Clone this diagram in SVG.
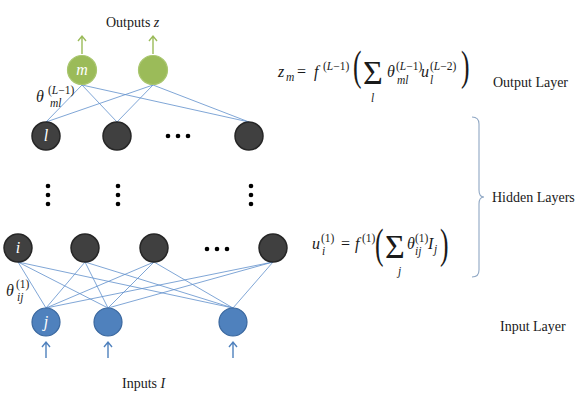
<svg xmlns="http://www.w3.org/2000/svg" width="581" height="411" viewBox="0 0 581 411">
<style>
text{font-family:"Liberation Serif","Times New Roman",serif;fill:#1a1a1a}
.t{font-size:14px}
.m{font-size:16px;font-style:italic}
.s{font-size:11.5px}
.i{font-style:italic}
.lbl{font-size:16px;font-style:italic;fill:#ffffff;text-anchor:middle}
.dk{fill:#404040;stroke:#262626;stroke-width:1.5}
.gr{fill:#9BBB59;stroke:#A9C66F;stroke-width:1.2}
.bl{fill:#4F81BD;stroke:#3A679E;stroke-width:1.2}
.cn{stroke:#5F8FCB;stroke-width:0.8;fill:none}
.dot{fill:#000}
.ga{stroke:#9BBB59;stroke-width:1.4;fill:none}
.ba{stroke:#4F81BD;stroke-width:1.4;fill:none}
.par{font-size:32px}
.sig{font-size:34px}
</style>

<g id="connectors">
  <line class="cn" x1="82" y1="85" x2="46" y2="122"/>
  <line class="cn" x1="82" y1="85" x2="117" y2="122"/>
  <line class="cn" x1="82" y1="85" x2="249" y2="122"/>
  <line class="cn" x1="153" y1="85" x2="46" y2="122"/>
  <line class="cn" x1="153" y1="85" x2="117" y2="122"/>
  <line class="cn" x1="153" y1="85" x2="249" y2="122"/>

  <line class="cn" x1="18" y1="262" x2="46" y2="308"/>
  <line class="cn" x1="18" y1="262" x2="108" y2="308"/>
  <line class="cn" x1="18" y1="262" x2="233" y2="308"/>
  <line class="cn" x1="85" y1="262" x2="46" y2="308"/>
  <line class="cn" x1="85" y1="262" x2="108" y2="308"/>
  <line class="cn" x1="85" y1="262" x2="233" y2="308"/>
  <line class="cn" x1="154" y1="262" x2="46" y2="308"/>
  <line class="cn" x1="154" y1="262" x2="108" y2="308"/>
  <line class="cn" x1="154" y1="262" x2="233" y2="308"/>
  <line class="cn" x1="273" y1="262" x2="46" y2="308"/>
  <line class="cn" x1="273" y1="262" x2="108" y2="308"/>
  <line class="cn" x1="273" y1="262" x2="233" y2="308"/>

  <path class="ga" d="M82,54 V37 M78,41 L82,36 L86,41"/>
  <path class="ga" d="M153,54 V37 M149,41 L153,36 L157,41"/>
  <path class="ba" d="M46,358 V343 M42,347 L46,342 L50,347"/>
  <path class="ba" d="M108,358 V343 M104,347 L108,342 L112,347"/>
  <path class="ba" d="M233,358 V343 M229,347 L233,342 L237,347"/>
</g>

<g id="output-nodes">
  <g id="out-m"><circle class="gr" cx="82" cy="70" r="14.5"/><text class="lbl" x="82" y="75">m</text></g>
  <g id="out-2"><circle class="gr" cx="153" cy="70" r="14.5"/></g>
</g>

<g id="hidden-top">
  <g id="h-l"><circle class="dk" cx="46" cy="136" r="14"/><text class="lbl" x="46" y="141">l</text></g>
  <g id="h-2"><circle class="dk" cx="117" cy="136" r="14"/></g>
  <g id="h-4"><circle class="dk" cx="249" cy="136" r="14"/></g>
  <circle class="dot" cx="168" cy="136" r="2.3"/>
  <circle class="dot" cx="178" cy="136" r="2.3"/>
  <circle class="dot" cx="188" cy="136" r="2.3"/>
</g>

<g id="vdots">
  <circle class="dot" cx="48" cy="186" r="2.3"/><circle class="dot" cx="48" cy="195" r="2.3"/><circle class="dot" cx="48" cy="204" r="2.3"/>
  <circle class="dot" cx="118" cy="186" r="2.3"/><circle class="dot" cx="118" cy="195" r="2.3"/><circle class="dot" cx="118" cy="204" r="2.3"/>
  <circle class="dot" cx="251" cy="186" r="2.3"/><circle class="dot" cx="251" cy="195" r="2.3"/><circle class="dot" cx="251" cy="204" r="2.3"/>
</g>

<g id="hidden-bottom">
  <g id="h1-i"><circle class="dk" cx="18" cy="248" r="14"/><text class="lbl" x="18" y="253">i</text></g>
  <g id="h1-2"><circle class="dk" cx="85" cy="248" r="14"/></g>
  <g id="h1-3"><circle class="dk" cx="154" cy="248" r="14"/></g>
  <g id="h1-5"><circle class="dk" cx="273" cy="248" r="14"/></g>
  <circle class="dot" cx="207" cy="249" r="2.3"/>
  <circle class="dot" cx="217" cy="249" r="2.3"/>
  <circle class="dot" cx="227" cy="249" r="2.3"/>
</g>

<g id="input-nodes">
  <g id="in-j"><circle class="bl" cx="46" cy="322" r="14"/><text class="lbl" x="46" y="327">j</text></g>
  <g id="in-2"><circle class="bl" cx="108" cy="322" r="14"/></g>
  <g id="in-3"><circle class="bl" cx="233" cy="322" r="14"/></g>
</g>

<g id="labels">
  <text class="t" x="106" y="27">Outputs <tspan class="i">z</tspan></text>
  <text class="t" x="122" y="388">Inputs <tspan class="i">I</tspan></text>

  <text class="m" x="36" y="102">θ</text>
  <text class="s" x="48" y="94">(<tspan class="i">L</tspan>−1)</text>
  <text class="s i" x="50" y="107">ml</text>

  <text class="m" x="6" y="296">θ</text>
  <text class="s" x="16" y="288">(1)</text>
  <text class="s i" x="17" y="301">ij</text>

  <text class="t" x="493" y="87">Output Layer</text>
  <text class="t" x="492" y="202">Hidden Layers</text>
  <text class="t" x="500" y="331">Input Layer</text>
</g>

<g id="formula-output">
  <text class="m" x="278" y="77">z</text>
  <text class="s i" x="286" y="81">m</text>
  <text class="t" x="297" y="77" style="font-size:16px">=</text>
  <text class="m" x="314" y="77">f</text>
  <text class="s" x="323" y="70">(<tspan class="i">L</tspan>−1)</text>
  <text class="par" transform="translate(353,80) scale(0.8,1.3)">(</text>
  <text class="sig" x="363" y="84">Σ</text>
  <text class="s i" x="371" y="102">l</text>
  <text class="m" x="387" y="77">θ</text>
  <text class="s" x="396" y="70">(<tspan class="i">L</tspan>−1)</text>
  <text class="s i" x="397" y="84">ml</text>
  <text class="m" x="421" y="77">u</text>
  <text class="s" x="430" y="70">(<tspan class="i">L</tspan>−2)</text>
  <text class="s i" x="430" y="84">l</text>
  <text class="par" transform="translate(461,80) scale(0.8,1.3)">)</text>
</g>

<g id="formula-hidden">
  <text class="m" x="312" y="249">u</text>
  <text class="s" x="321" y="242">(1)</text>
  <text class="s i" x="322" y="255">i</text>
  <text class="t" x="341" y="249" style="font-size:16px">=</text>
  <text class="m" x="355" y="249">f</text>
  <text class="s" x="362" y="242">(1)</text>
  <text class="par" transform="translate(375,258) scale(0.8,1.3)">(</text>
  <text class="sig" x="385" y="258">Σ</text>
  <text class="s i" x="398" y="275">j</text>
  <text class="m" x="407" y="249">θ</text>
  <text class="s" x="415" y="242">(1)</text>
  <text class="s i" x="415" y="255">ij</text>
  <text class="m" x="428" y="249">I</text>
  <text class="s i" x="434" y="253">j</text>
  <text class="par" transform="translate(440,258) scale(0.8,1.3)">)</text>
</g>

<g id="bracket">
  <path d="M472,117 Q479,117 479,124 V190 Q479,197 484,197 Q479,197 479,204 V270 Q479,277 472,277" fill="none" stroke="#8FA7C4" stroke-width="1.1"/>
</g>
</svg>
